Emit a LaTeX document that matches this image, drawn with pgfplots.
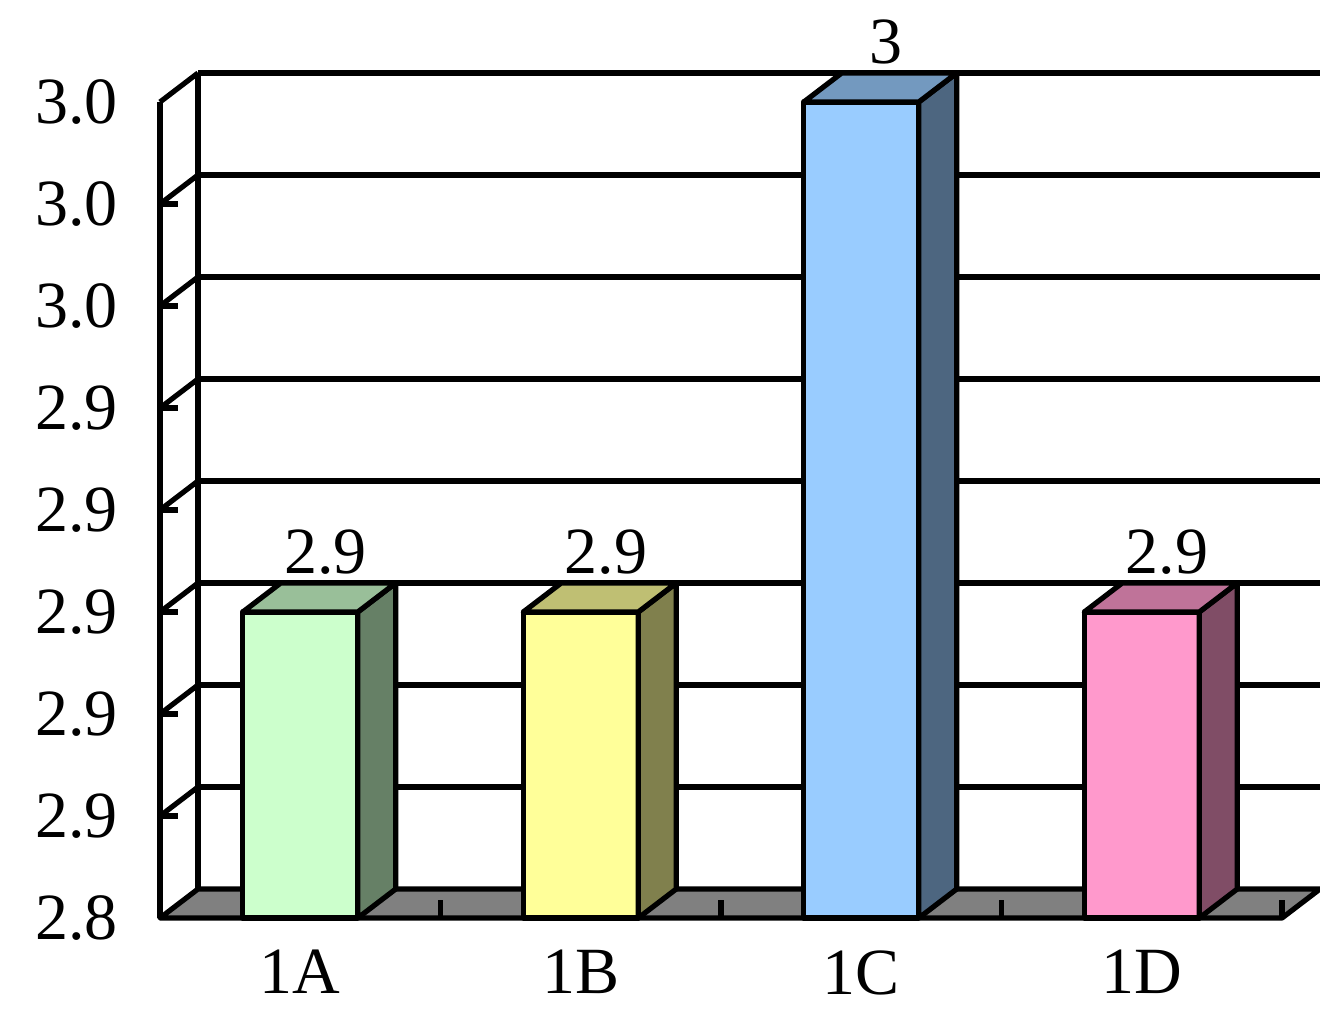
\documentclass[border=0pt]{standalone}
\usepackage{pgfplots}
\pgfplotsset{compat=1.18}
\usepackage{fontspec}
\setmainfont{Liberation Serif}
\definecolor{fA}{HTML}{CCFFCC}\definecolor{sA}{HTML}{668066}\definecolor{tA}{HTML}{99BF99}
\definecolor{fB}{HTML}{FFFF99}\definecolor{sB}{HTML}{80804D}\definecolor{tB}{HTML}{BFBF73}
\definecolor{fC}{HTML}{99CCFF}\definecolor{sC}{HTML}{4D6680}\definecolor{tC}{HTML}{7399BF}
\definecolor{fD}{HTML}{FF99CC}\definecolor{sD}{HTML}{804D66}\definecolor{tD}{HTML}{BF7399}
\def\barhw{0.205}\def\depx{0.13547}\def\depy{0.005686}\def\ybase{2.84}
\tikzset{ln/.style={draw=black,line width=2.6pt,line join=round}}
\newcommand\threedbar[5]{%
  \pgfmathsetmacro\xl{#1-\barhw}%
  \pgfmathsetmacro\xr{#1+\barhw}%
  \pgfmathsetmacro\xlb{#1-\barhw+\depx}%
  \pgfmathsetmacro\xrb{#1+\barhw+\depx}%
  \pgfmathsetmacro\vb{#2+\depy}%
  \pgfmathsetmacro\fb{\ybase+\depy}%
  \addplot[ln,fill=#3,mark=none] coordinates {(\xl,\ybase) (\xr,\ybase) (\xr,#2) (\xl,#2)} -- cycle;
  \addplot[ln,fill=#4,mark=none] coordinates {(\xr,\ybase) (\xrb,\fb) (\xrb,\vb) (\xr,#2)} -- cycle;
  \addplot[ln,fill=#5,mark=none] coordinates {(\xl,#2) (\xr,#2) (\xrb,\vb) (\xlb,\vb)} -- cycle;
}
\newcommand\bfont{\fontsize{33}{40}\selectfont}
\begin{document}
\begin{tikzpicture}
\useasboundingbox (0,0) rectangle (660pt,504.5pt);
\begin{axis}[
  at={(80pt,45.5pt)}, anchor=south west, scale only axis,
  width=561pt, height=408pt,
  xmin=-0.5, xmax=3.5, ymin=2.84, ymax=3.0, clip=false,
  axis line style={draw=none}, tick style={draw=none}, major tick length=0pt,
  xtick={0,1,2,3}, xticklabels={1A,1B,1C,1D},
  ytick={2.84,2.86,2.88,2.90,2.92,2.94,2.96,2.98,3.00},
  /pgf/number format/assume math mode=true,
  yticklabel style={/pgf/number format/.cd,fixed,fixed zerofill,precision=1,/tikz/.cd,anchor=east,inner sep=0pt,xshift=-21pt},
  xticklabel style={anchor=north,inner sep=0pt,yshift=-16pt},
  tick label style={font=\bfont},
]
% back wall gridlines
\pgfplotsinvokeforeach{2.86,2.88,2.90,2.92,2.94,2.96,2.98,3.00}{
  \draw[ln] ([shift={(19pt,14.5pt)}]axis cs:-0.5,#1) -- ([shift={(19pt,14.5pt)}]axis cs:3.5,#1);
  \draw[ln] (axis cs:-0.5,#1) -- ++(19pt,14.5pt);
}
\pgfplotsinvokeforeach{2.86,2.88,2.90,2.92,2.94,2.96,2.98}{
  \draw[ln] (axis cs:-0.5,#1) -- ++(9pt,0pt);
}
% walls
\draw[ln] (axis cs:-0.5,2.84) -- (axis cs:-0.5,3.0);
\draw[ln] ([shift={(19pt,14.5pt)}]axis cs:-0.5,2.84) -- ([shift={(19pt,14.5pt)}]axis cs:-0.5,3.0);
% floor
\draw[ln,fill=gray] (axis cs:-0.5,2.84) -- (axis cs:3.5,2.84) -- ([shift={(19pt,14.5pt)}]axis cs:3.5,2.84) -- ([shift={(19pt,14.5pt)}]axis cs:-0.5,2.84) -- cycle;
\pgfplotsinvokeforeach{0.5,1.5,2.5,3.5}{
  \draw[ln] (axis cs:#1,2.84) -- ++(0pt,9pt);
}
% bars
\threedbar{0}{2.9}{fA}{sA}{tA}
\threedbar{1}{2.9}{fB}{sB}{tB}
\threedbar{2}{3.0}{fC}{sC}{tC}
\threedbar{3}{2.9}{fD}{sD}{tD}
% value labels
\addplot[draw=none,mark=none,nodes near coords,
  nodes near coords style={anchor=base,inner sep=0pt,xshift=12.5pt,yshift=19.5pt,font=\bfont}]
  coordinates {(0,2.9) (1,2.9) (2,3.0) (3,2.9)};
\end{axis}
\end{tikzpicture}
\end{document}
